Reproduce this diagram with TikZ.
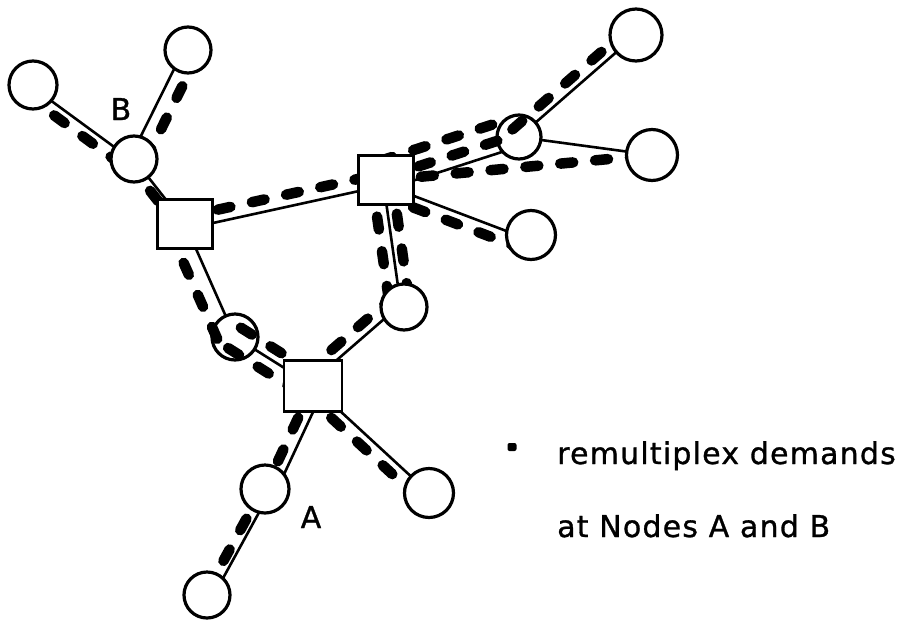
\documentclass[tikz,border=0pt]{standalone}
\usepackage{fontspec}
\setmainfont{DejaVu Sans}[FakeBold=1]
\newfontfamily\notefont{DejaVu Sans}[LetterSpace=4,FakeBold=1]
\usetikzlibrary{calc}
\pgfdeclarelayer{trunks}
\pgfdeclarelayer{ghosts}
\pgfdeclarelayer{demands}
\pgfsetlayers{trunks,ghosts,demands,main}

\begin{document}
\begin{tikzpicture}[x=1pt,y=-1pt,
    site/.style={circle,draw,line width=3.2pt,fill=white,minimum size=46pt,inner sep=0pt},
    hub/.style={rectangle,draw,line width=2.8pt,fill=white,minimum width=55pt,minimum height=49pt,inner sep=0pt},
    trunk/.style={line width=2.6pt},
    demand/.style={line width=10.5pt,line cap=round,dash pattern=on 13pt off 22pt},
    tag/.style={font=\fontsize{30}{36}\selectfont,inner sep=0pt,anchor=base}]
    % thin trunk and thick demand route, both shifted sideways by #3
    \newcommand{\trunk}[3]{\begin{pgfonlayer}{trunks}\draw[trunk]($(#1)!#3!90:(#2)$)--($(#2)!#3!-90:(#1)$);\end{pgfonlayer}}
    \newcommand{\demand}[3]{\begin{pgfonlayer}{demands}\draw[demand]($(#1)!#3!90:(#2)$)--($(#2)!#3!-90:(#1)$);\end{pgfonlayer}}
    \useasboundingbox(0,0)rectangle(902,619);
    % exchanges
    \node[hub](X1)at(185,224){};
    \node[hub](X2)at(386,180){};
    \node[hub,minimum width=58pt,minimum height=51pt](X3)at(313,386){};
    % end sites
    \node[site,minimum size=48pt](tl)at(33,85){};
    \node[site](tc)at(188,50){};
    \node[site](B)at(134,159){};
    \node[site,minimum size=52pt](tr)at(636,35){};
    \node[site,minimum size=51pt](r)at(652,155){};
    \node[site,minimum size=49pt](rb)at(531,235){};
    \node[site](m)at(404,307){};
    \node[site,minimum size=48pt](A)at(265,489){};
    \node[site](bot)at(207,595){};
    \node[site,minimum size=49pt](br)at(429,493){};
    % sites the demands run across
    \begin{pgfonlayer}{ghosts}
    \node[site,minimum size=44pt](g)at(519,137){};
    \node[site](l)at(235,337){};
    \end{pgfonlayer}
    % links
    \trunk{tl}{B}{-2pt}\demand{tl}{B}{-12pt}
    \trunk{tc}{B}{-4pt}\demand{tc}{B}{11pt}
    \trunk{B}{X1}{0pt}\demand{B}{X1}{-7pt}
    \trunk{X1}{X2}{-5pt}\demand{X1}{X2}{7pt}
    \trunk{X1}{l}{0pt}\demand{X1}{l}{-17pt}
    \trunk{l}{X3}{0pt}\demand{l}{X3}{11pt}\demand{l}{X3}{-13pt}
    \trunk{X2}{m}{-3pt}\demand{X2}{m}{6pt}\demand{X2}{m}{-14pt}
    \trunk{m}{X3}{-4pt}\demand{m}{X3}{-15pt}
    \trunk{X2}{g}{-9pt}\demand{X2}{g}{3pt}\demand{X2}{g}{20pt}
    \trunk{g}{tr}{0pt}\demand{g}{tr}{10pt}
    \trunk{g}{r}{0pt}\demand{X2}{r}{0pt}
    \trunk{X2}{rb}{-5pt}\demand{X2}{rb}{-16pt}
    \trunk{X3}{A}{11pt}\demand{X3}{A}{0pt}
    \trunk{A}{bot}{6pt}\demand{A}{bot}{-2pt}
    \trunk{X3}{br}{0pt}\demand{X3}{br}{-11pt}
    % labels
    \node[tag](labB)at(121,120){B};
    \node[tag](labA)at(311,528){A};
    \node[fill,rounded corners=2pt,minimum width=9pt,minimum height=8pt,inner sep=0pt](dot)at(512,447){};
    \node[tag,anchor=base west,font=\notefont\fontsize{30}{36}\selectfont](note1)at(557,464){remultiplex demands};
    \node[tag,anchor=base west,font=\notefont\fontsize{30}{36}\selectfont](note2)at(557,537){at Nodes A and B};
\end{tikzpicture}
\end{document}
